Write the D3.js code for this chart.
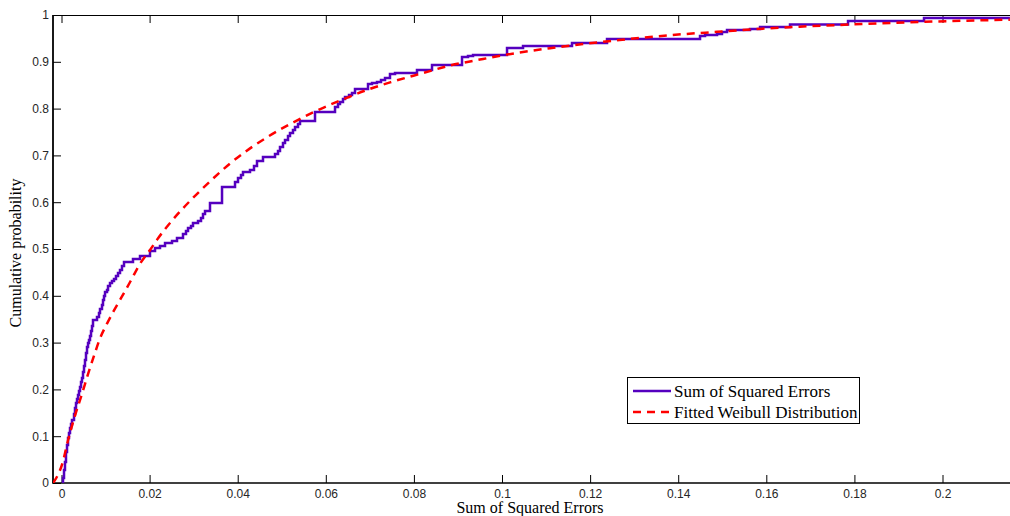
<!DOCTYPE html>
<html>
<head>
<meta charset="utf-8">
<script src="https://cdn.jsdelivr.net/npm/d3@7"></script>
<style>
  html, body { margin: 0; padding: 0; background: #fff; }
  svg { display: block; }
  .tick text { font-family: "Liberation Sans", Arial, sans-serif; font-size: 12px; fill: #262626; }
  .serif { font-family: "Liberation Serif", "Times New Roman", serif; fill: #000; }
</style>
</head>
<body>
<svg id="chart" width="1010" height="516"></svg>
<script>
// Empirical CDF of the sum of squared errors (step corners: error value, cumulative probability)
const sseX = [0.00034, 0.00034, 0.00057, 0.00079, 0.00102, 0.00125, 0.00148, 0.00170, 0.00193, 0.00216, 0.00238,
  0.00284, 0.00306, 0.00329, 0.00352, 0.00375, 0.00397, 0.00420, 0.00443, 0.00465, 0.00488,
  0.00511, 0.00533, 0.00556, 0.00579, 0.00602, 0.00624, 0.00647, 0.00670, 0.00692, 0.00715,
  0.00806, 0.00851, 0.00874, 0.00919, 0.00942, 0.00965, 0.00988, 0.01033, 0.01056, 0.01101,
  0.01146, 0.01192, 0.01237, 0.01283, 0.01328, 0.01373, 0.01419, 0.01623, 0.01782, 0.02009,
  0.02123, 0.02236, 0.02350, 0.02509, 0.02622, 0.02758, 0.02826, 0.02872, 0.02940, 0.02985,
  0.03099, 0.03167, 0.03212, 0.03258, 0.03371, 0.03644, 0.03939, 0.04007, 0.04075, 0.04120,
  0.04279, 0.04370, 0.04438, 0.04574, 0.04847, 0.04915, 0.04960, 0.05028, 0.05074, 0.05142,
  0.05187, 0.05255, 0.05301, 0.05369, 0.05414, 0.05755, 0.06209, 0.06277, 0.06322, 0.06390,
  0.06436, 0.06527, 0.06595, 0.06663, 0.06958, 0.07049, 0.07162, 0.07253, 0.07344, 0.07457,
  0.07571, 0.08070, 0.08411, 0.09092, 0.09228, 0.09342, 0.10114, 0.10477, 0.11589, 0.12384,
  0.14495, 0.14609, 0.14881, 0.14994, 0.15108, 0.15630, 0.15857, 0.16538, 0.17855, 0.19580, 0.2153];
const sseP = [0, 0.0107, 0.0278, 0.0449, 0.0662, 0.0812, 0.0962, 0.1068, 0.1175, 0.1261, 0.1346,
  0.1474, 0.1603, 0.1709, 0.1795, 0.1880, 0.1966, 0.2051, 0.2158, 0.2244, 0.2372,
  0.2500, 0.2628, 0.2778, 0.2906, 0.2991, 0.3056, 0.3141, 0.3248, 0.3355, 0.3483,
  0.3547, 0.3632, 0.3718, 0.3803, 0.3910, 0.3996, 0.4081, 0.4124, 0.4209, 0.4274,
  0.4316, 0.4359, 0.4423, 0.4487, 0.4551, 0.4637, 0.4722, 0.4786, 0.4850, 0.4957,
  0.5021, 0.5064, 0.5128, 0.5171, 0.5235, 0.5321, 0.5385, 0.5449, 0.5491, 0.5556,
  0.5598, 0.5662, 0.5748, 0.5812, 0.5983, 0.6325, 0.6432, 0.6517, 0.6581, 0.6645,
  0.6688, 0.6774, 0.6880, 0.6966, 0.7030, 0.7094, 0.7179, 0.7265, 0.7329, 0.7415,
  0.7479, 0.7543, 0.7607, 0.7671, 0.7735, 0.7927, 0.8034, 0.8098, 0.8141, 0.8205,
  0.8248, 0.8291, 0.8333, 0.8419, 0.8526, 0.8547, 0.8568, 0.8611, 0.8654, 0.8739,
  0.8761, 0.8825, 0.8932, 0.9103, 0.9124, 0.9145, 0.9295, 0.9338, 0.9402, 0.9487,
  0.9551, 0.9573, 0.9594, 0.9637, 0.9679, 0.9701, 0.9744, 0.9797, 0.9872, 0.9936, 0.9936];

// Fitted Weibull distribution curve
const fitX = [-0.0019, 0.0003, 0.0015, 0.0031, 0.0047, 0.0060, 0.0076, 0.0087, 0.0103, 0.0117,
  0.0137, 0.0156, 0.0178, 0.0201, 0.0217, 0.0253, 0.0292, 0.0321, 0.0355, 0.0383,
  0.0428, 0.0467, 0.0519, 0.0571, 0.0632, 0.0694, 0.0746, 0.0821, 0.0882, 0.0957,
  0.1034, 0.1109, 0.1184, 0.1261, 0.1336, 0.1411, 0.1488, 0.1563, 0.1676, 0.1828, 0.1978, 0.2153];
const fitP = [0, 0.045, 0.092, 0.145, 0.192, 0.232, 0.278, 0.308, 0.340, 0.365,
  0.398, 0.430, 0.468, 0.498, 0.520, 0.563, 0.603, 0.630, 0.660, 0.683,
  0.715, 0.739, 0.767, 0.792, 0.817, 0.840, 0.856, 0.876, 0.892, 0.906,
  0.919, 0.929, 0.938, 0.946, 0.953, 0.959, 0.964, 0.969, 0.975, 0.981, 0.986, 0.990];

const xTicks = [0, 0.02, 0.04, 0.06, 0.08, 0.1, 0.12, 0.14, 0.16, 0.18, 0.2];
const yTicks = [0, 0.1, 0.2, 0.3, 0.4, 0.5, 0.6, 0.7, 0.8, 0.9, 1];
const seriesNames = ["Sum of Squared Errors", "Fitted Weibull Distribution"];

const svg = d3.select("#chart");
const plotL = 53, plotR = 1010, plotT = 15, plotB = 483;

const x = d3.scaleLinear().domain([-0.00193, 0.21532]).range([plotL, plotR]);
const y = d3.scaleLinear().domain([0, 1]).range([plotB, plotT]);

svg.append("clipPath").attr("id", "plotClip")
  .append("rect").attr("x", plotL).attr("y", plotT - 2).attr("width", plotR - plotL).attr("height", plotB - plotT + 2);

const fmt = d => (d === 0 || d === 1) ? String(d) : String(+d.toFixed(2));

// Bottom axis with inward ticks
const gx = svg.append("g").attr("transform", `translate(0,${plotB})`)
  .call(d3.axisBottom(x).tickValues(xTicks).tickFormat(fmt).tickSizeInner(-8).tickSizeOuter(0).tickPadding(6));
gx.select(".domain").remove();
gx.selectAll(".tick line").attr("stroke", "#000");

// Top axis ticks (no labels)
const gxt = svg.append("g").attr("transform", `translate(0,${plotT})`)
  .call(d3.axisTop(x).tickValues(xTicks).tickFormat("").tickSizeInner(-8).tickSizeOuter(0));
gxt.select(".domain").remove();
gxt.selectAll(".tick line").attr("stroke", "#000");

// Left axis with inward ticks
const gy = svg.append("g").attr("transform", `translate(${plotL},0)`)
  .call(d3.axisLeft(y).tickValues(yTicks).tickFormat(fmt).tickSizeInner(-8).tickSizeOuter(0).tickPadding(4));
gy.select(".domain").remove();
gy.selectAll(".tick line").attr("stroke", "#000");
gy.selectAll(".tick text").attr("x", -4);

// Axes box
svg.append("line").attr("x1", plotL).attr("x2", plotR).attr("y1", plotT + 0.5).attr("y2", plotT + 0.5)
  .attr("stroke", "#000").attr("stroke-width", 1.2);
svg.append("line").attr("x1", plotL).attr("x2", plotR).attr("y1", plotB).attr("y2", plotB)
  .attr("stroke", "#000").attr("stroke-width", 1.6);
svg.append("line").attr("x1", plotL).attr("x2", plotL).attr("y1", plotT).attr("y2", plotB + 0.8)
  .attr("stroke", "#000").attr("stroke-width", 1.8);

const plot = svg.append("g").attr("clip-path", "url(#plotClip)");

const purple = "#5500bf";
const red = "#ff0000";

const stepData = sseX.map((v, i) => [v, sseP[i]]);
const fitData = fitX.map((v, i) => [v, fitP[i]]);

plot.append("path").datum(stepData)
  .attr("fill", "none").attr("stroke", purple).attr("stroke-width", 2.5)
  .attr("stroke-linejoin", "miter")
  .attr("d", d3.line().x(d => x(d[0])).y(d => y(d[1])).curve(d3.curveStepAfter));

plot.append("path").datum(fitData)
  .attr("fill", "none").attr("stroke", red).attr("stroke-width", 2.5)
  .attr("stroke-dasharray", "8,6")
  .attr("d", d3.line().x(d => x(d[0])).y(d => y(d[1])).curve(d3.curveMonotoneX));

// Axis titles
svg.append("text").attr("class", "serif")
  .attr("x", 530).attr("y", 513).attr("text-anchor", "middle").attr("font-size", 16)
  .text("Sum of Squared Errors");
svg.append("text").attr("class", "serif")
  .attr("transform", "translate(21,253) rotate(-90)").attr("text-anchor", "middle").attr("font-size", 16)
  .text("Cumulative probability");

// Legend
const lg = svg.append("g");
lg.append("rect").attr("x", 627.5).attr("y", 377.5).attr("width", 232).attr("height", 46)
  .attr("fill", "#fff").attr("stroke", "#000").attr("stroke-width", 1);
const rows = [
  { name: seriesNames[0], color: purple, dash: null, y: 391 },
  { name: seriesNames[1], color: red, dash: "8,6", y: 412 }
];
rows.forEach(r => {
  lg.append("line").attr("x1", 633).attr("x2", 671).attr("y1", r.y).attr("y2", r.y)
    .attr("stroke", r.color).attr("stroke-width", 2.5).attr("stroke-dasharray", r.dash);
  lg.append("text").attr("class", "serif").attr("x", 674).attr("y", r.y + 5.5)
    .attr("font-size", 17).text(r.name);
});
</script>
</body>
</html>
